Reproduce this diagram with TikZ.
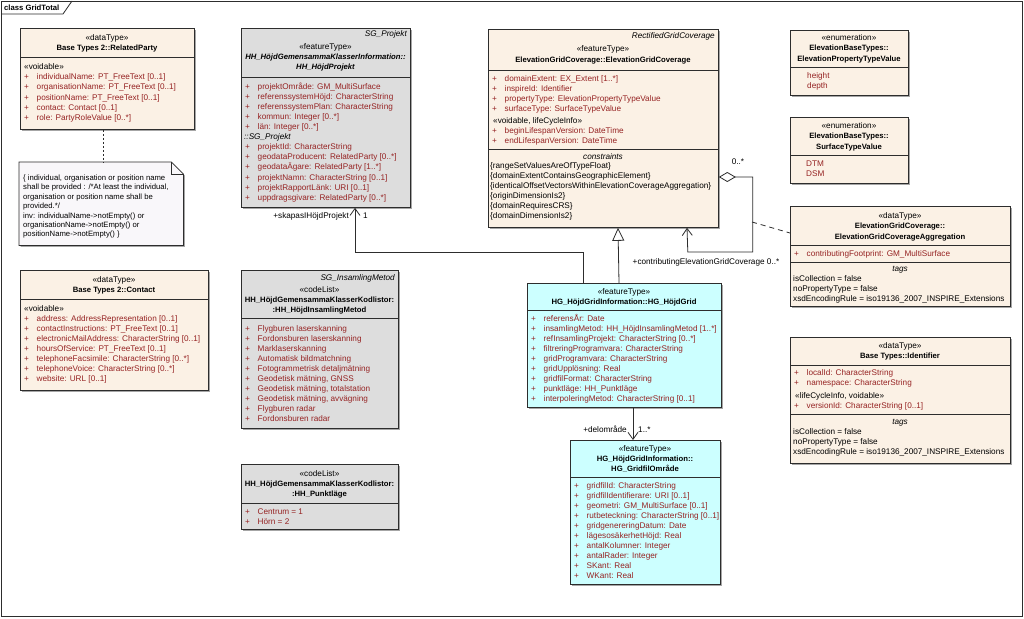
\documentclass[tikz,border=0pt]{standalone}
\usepackage{fontspec}
\setmainfont{Liberation Sans}
\usetikzlibrary{arrows.meta,shadows}
\definecolor{beige}{RGB}{251,241,229}
\definecolor{graybox}{RGB}{221,221,221}
\definecolor{cyanbox}{RGB}{204,255,255}
\definecolor{attrred}{RGB}{150,35,35}
\definecolor{notefill}{RGB}{249,247,250}
\definecolor{linec}{RGB}{45,45,45}
\newcommand\fsz{\fontsize{8.2}{9}\selectfont}
\newcommand\fsb{\fontsize{7.7}{9}\selectfont}
\newcommand\linelist[6]{\foreach \t [count=\i] in {#6}{\node[#5] (#1\i) at (#2,{#3+#4*(\i-1)}) {\t};}}
\tikzset{
  x=1pt, y=-1pt,
  umlbox/.style={draw=linec, line width=0.8pt, anchor=north west, inner sep=0pt,
    drop shadow={shadow xshift=1.5pt, shadow yshift=-1.5pt, fill=black!35, opacity=1}},
  sepline/.style={draw=linec, line width=0.7pt},
  txt/.style={inner sep=0pt, text height=5.5pt, text depth=0pt, font=\fsz},
  ttl/.style={txt, font=\fsb\bfseries},
  bitl/.style={txt, font=\fsb\bfseries\itshape},
  itx/.style={txt, font=\fsz\itshape},
  attr/.style={txt, anchor=west, text=attrred, execute at begin node={\makebox[12.5pt][l]{+}}},
  redl/.style={txt, anchor=west, text=attrred},
  blkl/.style={txt, anchor=west},
  notel/.style={inner sep=0pt, text height=5pt, text depth=0pt, anchor=west, font=\fontsize{7.7}{8}\selectfont},
  conn/.style={draw=linec, line width=0.8pt},
  nav/.style={conn, -{Straight Barb[length=7pt,width=10pt]}},
}
\begin{document}
\begin{tikzpicture}
\useasboundingbox (0,0) rectangle (1024,618);
\fill[white] (0,0) rectangle (1024,618);
% frame
\draw[linec, line width=0.8pt] (1,1) rectangle (1022,616);
\draw[linec, line width=0.8pt] (1,14) -- (63,14) -- (72,1);
\node[txt, anchor=west, font=\fsb\bfseries] (frametitle) at (4,8) {class GridTotal};

% ---------- RelatedParty
\node[umlbox, fill=beige, minimum width=174pt, minimum height=101pt] (rp) at (20,28) {};
\node[txt] (rpst) at (107,38) {«dataType»};
\node[ttl] (rpnm) at (107,48) {Base Types 2::RelatedParty};
\draw[sepline] (rp.west |- 0,57) -- (rp.east |- 0,57);
\node[blkl] (rpsec) at (24,67) {«voidable»};
\linelist{rpa}{24}{77}{10.2}{attr}{{individualName: PT\_FreeText [0..1]},{organisationName: PT\_FreeText [0..1]},{positionName: PT\_FreeText [0..1]},{contact: Contact [0..1]},{role: PartyRoleValue [0..*]}}

% ---------- Note
\node[minimum width=164pt, minimum height=83pt, anchor=north west, inner sep=0pt] (note) at (19,162) {};
\fill[black!35] ([shift={(1.5,1.5)}]note.north west) -- ([shift={(-10.5,1.5)}]note.north east) -- ([shift={(1.5,13.5)}]note.north east) -- ([shift={(1.5,1.5)}]note.south east) -- ([shift={(1.5,1.5)}]note.south west) -- cycle;
\draw[linec, line width=0.8pt, fill=notefill] (note.north west) -- ([xshift=-12pt]note.north east) -- ([yshift=-12pt]note.north east) -- (note.south east) -- (note.south west) -- cycle;
\draw[linec, line width=0.8pt] ([xshift=-12pt]note.north east) -- ([xshift=-12pt,yshift=-12pt]note.north east) -- ([yshift=-12pt]note.north east);
\linelist{nt}{23}{178}{9.4}{notel}{{\{ individual, organisation or position name},{shall be provided : /*At least the individual,},{organisation or position name shall be},{provided.*/},{inv: individualName->notEmpty() or},{organisationName->notEmpty() or},{positionName->notEmpty() \}}}
\draw[conn, dash pattern=on 2pt off 2pt] ([xshift=83pt]rp.south west) -- ([xshift=84pt]note.north west);

% ---------- Contact
\node[umlbox, fill=beige, minimum width=188pt, minimum height=120pt] (ct) at (20,270) {};
\node[txt] (ctst) at (114,280) {«dataType»};
\node[ttl] (ctnm) at (114,290) {Base Types 2::Contact};
\draw[sepline] (ct.west |- 0,299) -- (ct.east |- 0,299);
\node[blkl] (ctsec) at (24,309) {«voidable»};
\linelist{cta}{24}{319}{10}{attr}{{address: AddressRepresentation [0..1]},{contactInstructions: PT\_FreeText [0..1]},{electronicMailAddress: CharacterString [0..1]},{hoursOfService: PT\_FreeText [0..1]},{telephoneFacsimile: CharacterString [0..*]},{telephoneVoice: CharacterString [0..*]},{website: URL [0..1]}}

% ---------- SG_Projekt
\node[umlbox, fill=graybox, minimum width=169pt, minimum height=179pt] (sgp) at (241,28) {};
\node[itx, anchor=east] (sgppar) at (407,34) {SG\_Projekt};
\node[txt] (sgpst) at (325.5,47) {«featureType»};
\node[bitl] (sgpn1) at (325.5,57) {HH\_HöjdGemensammaKlasserInformation::};
\node[bitl] (sgpn2) at (325.5,67) {HH\_HöjdProjekt};
\draw[sepline] (sgp.west |- 0,77) -- (sgp.east |- 0,77);
\linelist{sgpa}{245}{87}{10}{attr}{{projektOmråde: GM\_MultiSurface},{referenssystemHöjd: CharacterString},{referenssystemPlan: CharacterString},{kommun: Integer [0..*]},{län: Integer [0..*]}}
\node[itx, anchor=west] (sgpsec) at (244,137) {::SG\_Projekt};
\linelist{sgpb}{245}{147}{10.1}{attr}{{projektId: CharacterString},{geodataProducent: RelatedParty [0..*]},{geodataÄgare: RelatedParty [1..*]},{projektNamn: CharacterString [0..1]},{projektRapportLänk: URI [0..1]},{uppdragsgivare: RelatedParty [0..*]}}

% ---------- SG_InsamlingMetod
\node[umlbox, fill=graybox, minimum width=157pt, minimum height=158pt] (sgi) at (241,270) {};
\node[itx, anchor=east] (sgipar) at (395,278) {SG\_InsamlingMetod};
\node[txt] (sgist) at (319.5,290) {«codeList»};
\node[ttl] (sgin1) at (319.5,300) {HH\_HöjdGemensammaKlasserKodlistor:};
\node[ttl] (sgin2) at (319.5,310) {:HH\_HöjdInsamlingMetod};
\draw[sepline] (sgi.west |- 0,318) -- (sgi.east |- 0,318);
\linelist{sgia}{245}{329}{10}{attr}{{Flygburen laserskanning},{Fordonsburen laserskanning},{Marklaserskanning},{Automatisk bildmatchning},{Fotogrammetrisk detaljmätning},{Geodetisk mätning, GNSS},{Geodetisk mätning, totalstation},{Geodetisk mätning, avvägning},{Flygburen radar},{Fordonsburen radar}}

% ---------- Punktläge
\node[umlbox, fill=graybox, minimum width=157pt, minimum height=65pt] (pk) at (241,464) {};
\node[txt] (pkst) at (319.5,474) {«codeList»};
\node[ttl] (pkn1) at (319.5,484) {HH\_HöjdGemensammaKlasserKodlistor:};
\node[ttl] (pkn2) at (319.5,494) {:HH\_Punktläge};
\draw[sepline] (pk.west |- 0,503) -- (pk.east |- 0,503);
\linelist{pka}{245}{511.5}{10}{attr}{{Centrum = 1},{Hörn = 2}}

% ---------- ElevationGridCoverage
\node[umlbox, fill=beige, minimum width=230pt, minimum height=198pt] (egc) at (488,29) {};
\node[itx, anchor=east] (egcpar) at (715,36) {RectifiedGridCoverage};
\node[txt] (egcst) at (603,49) {«featureType»};
\node[ttl] (egcnm) at (603,60) {ElevationGridCoverage::ElevationGridCoverage};
\draw[sepline] (egc.west |- 0,70) -- (egc.east |- 0,70);
\linelist{egca}{492}{79}{9.8}{attr}{{domainExtent: EX\_Extent [1..*]},{inspireId: Identifier},{propertyType: ElevationPropertyTypeValue},{surfaceType: SurfaceTypeValue}}
\node[blkl] (egcsec) at (493,121) {«voidable, lifeCycleInfo»};
\linelist{egcb}{492}{131}{10}{attr}{{beginLifespanVersion: DateTime},{endLifespanVersion: DateTime}}
\draw[sepline] (egc.west |- 0,149) -- (egc.east |- 0,149);
\node[itx] (egccon) at (603,157) {constraints};
\linelist{egcc}{490}{166}{10}{blkl}{{\{rangeSetValuesAreOfTypeFloat\}},{\{domainExtentContainsGeographicElement\}},{\{identicalOffsetVectorsWithinElevationCoverageAggregation\}},{\{originDimensionIs2\}},{\{domainRequiresCRS\}},{\{domainDimensionIs2\}}}

% ---------- ElevationPropertyTypeValue
\node[umlbox, fill=beige, minimum width=118pt, minimum height=65pt] (eptv) at (790,30) {};
\node[txt] (eptvst) at (849,38) {«enumeration»};
\node[ttl] (eptvn1) at (849,48) {ElevationBaseTypes::};
\node[ttl] (eptvn2) at (849,59) {ElevationPropertyTypeValue};
\draw[sepline] (eptv.west |- 0,67) -- (eptv.east |- 0,67);
\linelist{eptva}{807}{76}{10}{redl}{height,depth}

% ---------- SurfaceTypeValue
\node[umlbox, fill=beige, minimum width=118pt, minimum height=66pt] (stv) at (790,117) {};
\node[txt] (stvst) at (849,126) {«enumeration»};
\node[ttl] (stvn1) at (849,136) {ElevationBaseTypes::};
\node[ttl] (stvn2) at (849,147) {SurfaceTypeValue};
\draw[sepline] (stv.west |- 0,155) -- (stv.east |- 0,155);
\linelist{stva}{806}{164}{10}{redl}{DTM,DSM}

% ---------- ElevationGridCoverageAggregation
\node[umlbox, fill=beige, minimum width=220pt, minimum height=100pt] (agg) at (790,206) {};
\node[txt] (aggst) at (900,216) {«dataType»};
\node[ttl] (aggn1) at (900,226) {ElevationGridCoverage::};
\node[ttl] (aggn2) at (900,237) {ElevationGridCoverageAggregation};
\draw[sepline] (agg.west |- 0,245) -- (agg.east |- 0,245);
\linelist{agga}{794}{253.5}{10}{attr}{{contributingFootprint: GM\_MultiSurface}}
\draw[sepline] (agg.west |- 0,262) -- (agg.east |- 0,262);
\node[itx] (aggtg) at (900,269) {tags};
\linelist{aggt}{793}{279}{10}{blkl}{{isCollection = false},{noPropertyType = false},{xsdEncodingRule = iso19136\_2007\_INSPIRE\_Extensions}}

% ---------- Identifier
\node[umlbox, fill=beige, minimum width=220pt, minimum height=126pt] (idf) at (790,337) {};
\node[txt] (idfst) at (900,346) {«dataType»};
\node[ttl] (idfnm) at (900,356) {Base Types::Identifier};
\draw[sepline] (idf.west |- 0,365) -- (idf.east |- 0,365);
\linelist{idfa}{794}{373}{10}{attr}{{localId: CharacterString},{namespace: CharacterString}}
\node[blkl] (idfsec) at (795,396) {«lifeCycleInfo, voidable»};
\linelist{idfb}{794}{406}{10}{attr}{{versionId: CharacterString [0..1]}}
\draw[sepline] (idf.west |- 0,414) -- (idf.east |- 0,414);
\node[itx] (idftg) at (900,422) {tags};
\linelist{idft}{793}{432}{10}{blkl}{{isCollection = false},{noPropertyType = false},{xsdEncodingRule = iso19136\_2007\_INSPIRE\_Extensions}}

% ---------- HG_HöjdGrid
\node[umlbox, fill=cyanbox, minimum width=194pt, minimum height=124pt] (hg) at (527,283) {};
\node[txt] (hgst) at (624,292) {«featureType»};
\node[ttl] (hgnm) at (624,302) {HG\_HöjdGridInformation::HG\_HöjdGrid};
\draw[sepline] (hg.west |- 0,310) -- (hg.east |- 0,310);
\linelist{hga}{531}{319}{10}{attr}{{referensÅr: Date},{insamlingMetod: HH\_HöjdInsamlingMetod [1..*]},{refInsamlingProjekt: CharacterString [0..*]},{filtreringProgramvara: CharacterString},{gridProgramvara: CharacterString},{gridUpplösning: Real},{gridfilFormat: CharacterString},{punktläge: HH\_Punktläge},{interpoleringMetod: CharacterString [0..1]}}

% ---------- HG_GridfilOmråde
\node[umlbox, fill=cyanbox, minimum width=150pt, minimum height=144pt] (gf) at (570,440) {};
\node[txt] (gfst) at (645,449) {«featureType»};
\node[ttl] (gfn1) at (645,459) {HG\_HöjdGridInformation::};
\node[ttl] (gfn2) at (645,469) {HG\_GridfilOmråde};
\draw[sepline] (gf.west |- 0,477) -- (gf.east |- 0,477);
\linelist{gfa}{574}{486}{10}{attr}{{gridfilId: CharacterString},{gridfilIdentifierare: URI [0..1]},{geometri: GM\_MultiSurface [0..1]},{rutbeteckning: CharacterString [0..1]},{gridgenereringDatum: Date},{lägesosäkerhetHöjd: Real},{antalKolumner: Integer},{antalRader: Integer},{SKant: Real},{WKant: Real}}

% ---------- connectors
% HöjdGrid -> SG_Projekt
\draw[nav] ([xshift=56pt]hg.north west) -- ++(0,-31) -| ([xshift=114pt]sgp.south west);
\node[txt, anchor=east] (lskap) at (349,216) {+skapasIHöjdProjekt};
\node[txt, anchor=west] (lskapm) at (363,216) {1};
% generalization HöjdGrid -> ElevationGridCoverage
\draw[conn, -{Triangle[length=13pt,width=12pt,fill=white]}] ([xshift=92pt]hg.north west) -- ([xshift=130pt]egc.south west);
% aggregation
\draw[conn, {Diamond[length=17pt,width=10pt,fill=white]}-{Straight Barb[length=7pt,width=10pt]}] ([yshift=-148pt]egc.north east) -- ++(34,0) -- ++(0,75) -- ++(-65,0) -- ([xshift=199pt]egc.south west);
\node[txt] (lagg1) at (738,162) {0..*};
\node[txt] (lagg2) at (706,262) {+contributingElevationGridCoverage 0..*};
\coordinate (acpt) at (752,222);
\draw[conn, dash pattern=on 5pt off 4pt] (acpt) -- ([yshift=-27pt]agg.north west);
% HöjdGrid -> GridfilOmråde
\draw[nav] ([xshift=106pt]hg.south west) -- ([xshift=63pt]gf.north west);
\node[txt, anchor=east] (ldel) at (627,430) {+delområde};
\node[txt, anchor=west] (ldelm) at (638,430) {1..*};
\end{tikzpicture}
\end{document}
